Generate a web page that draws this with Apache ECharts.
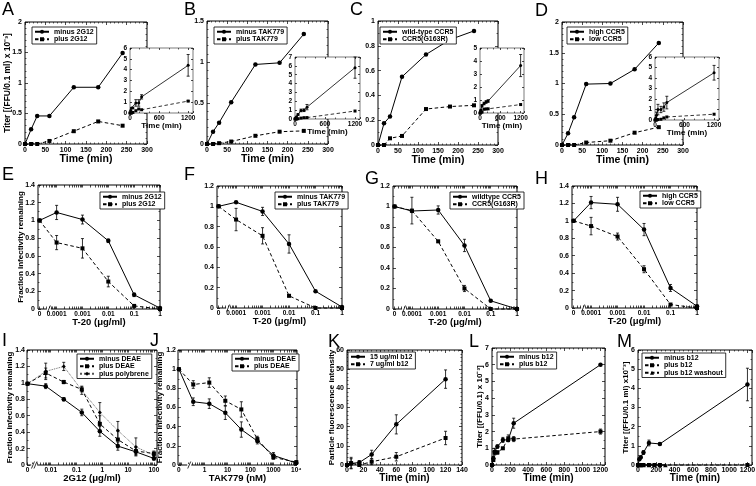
<!DOCTYPE html>
<html><head><meta charset="utf-8">
<script src="https://cdn.jsdelivr.net/npm/echarts@6/dist/echarts.min.js"></script>
<style>html,body{margin:0;padding:0;background:#fff}#c{width:756px;height:486px}</style>
</head><body><div id="c"></div>
<script>
// ================= DATA =================
// Row 1: kinetics (time in min, titer x10^-3)
const timeMain = [0, 15, 30, 60, 120, 180, 240];
const timeInset = [0, 15, 30, 60, 120, 180, 240, 1200];
// A
const minus2G12 = [0, 0.24, 0.46, 0.46, 0.93, 0.93, 1.49];
const plus2G12 = [0, 0, 0, 0.05, 0.21, 0.37, 0.30];
const insA_minus = [0, 0.24, 0.46, 0.46, 0.93, 0.93, 1.49, 4.4];
const insA_minusErr = [0, 0, 0, 0, 0.3, 0.3, 0.2, 1.0];
const insA_plus = [0, 0, 0, 0.05, 0.21, 0.37, 0.30, 1.1];
const insA_plusErr = [0, 0, 0, 0, 0, 0, 0, 0.05];
// B
const minusTAK = [0, 0.15, 0.26, 0.51, 0.97, 0.99, 1.34];
const plusTAK = [0, 0, 0.01, 0.03, 0.10, 0.15, 0.16];
const insB_minus = [0, 0.15, 0.26, 0.51, 0.97, 0.99, 1.34, 5.8];
const insB_minusErr = [0, 0, 0, 0.1, 0.15, 0.15, 0.3, 1.2];
const insB_plus = [0, 0, 0.01, 0.03, 0.10, 0.15, 0.16, 0.9];
// C
const wildCCR5 = [0, 0.175, 0.23, 0.55, 0.73, 0.85, 0.92];
const g163r = [0, 0, 0.054, 0.073, 0.29, 0.31, 0.32];
const insC_minus = [0, 0.175, 0.23, 0.55, 0.73, 0.85, 0.92, 3.65];
const insC_minusErr = [0, 0, 0, 0.1, 0.1, 0.1, 0.1, 0.85];
const insC_plus = [0, 0, 0.054, 0.073, 0.29, 0.31, 0.32, 0.65];
// D
const highCCR5 = [0, 0.19, 0.45, 0.99, 1.0, 1.23, 1.66];
const lowCCR5 = [0, 0, 0, 0.04, 0.07, 0.20, 0.29];
const insD_minus = [0, 0.19, 0.45, 0.99, 1.0, 1.23, 1.66, 4.5];
const insD_minusErr = [0, 0, 0.3, 0.5, 0.3, 0.4, 0.6, 0.7];
const insD_plus = [0, 0, 0, 0.04, 0.07, 0.20, 0.29, 0.55];

// Row 2: T-20 dose (ug/ml), fraction infectivity remaining
const t20Conc = [0, 0.0001, 0.001, 0.01, 0.1, 1];
const eMinus = [1.0, 1.09, 1.01, 0.77, 0.16, 0.01];
const eMinusErr = [0, 0.08, 0.05, 0.02, 0.02, 0];
const ePlus = [1.0, 0.75, 0.685, 0.31, 0.035, 0.0];
const ePlusErr = [0, 0.08, 0.11, 0.06, 0.01, 0.01];
const fMinus = [1.0, 1.04, 0.95, 0.63, 0.165, 0.01];
const fMinusErr = [0, 0, 0.04, 0.09, 0, 0];
const fPlus = [1.0, 0.87, 0.71, 0.12, 0.0, 0.0];
const fPlusErr = [0, 0.11, 0.08, 0.01, 0, 0.01];
const gWild = [1.0, 0.956, 0.966, 0.62, 0.08, 0.0];
const gWildErr = [0, 0, 0.04, 0.06, 0, 0];
const gMut = [1.0, 0.96, 0.66, 0.20, 0.0, 0.0];
const gMutErr = [0, 0.13, 0.01, 0.03, 0, 0];
const hHigh = [1.0, 1.21, 1.19, 0.90, 0.23, 0.02];
const hHighErr = [0, 0.07, 0.08, 0.07, 0.04, 0.01];
const hLow = [1.0, 0.94, 0.82, 0.445, 0.04, 0.0];
const hLowErr = [0, 0.1, 0.04, 0.04, 0, 0];

// Row 3
const conc2G12 = [0, 0.0064, 0.032, 0.16, 0.8, 4, 20, 100];
const iMinusDEAE = [0.99, 0.96, 0.80, 0.64, 0.41, 0.23, 0.16, 0.08];
const iMinusDEAEErr = [0, 0.03, 0.02, 0.04, 0.06, 0.05, 0.03, 0.02];
const iPlusDEAE = [0.99, 1.12, 1.01, 0.92, 0.50, 0.31, 0.17, 0.14];
const iPlusDEAEErr = [0, 0.06, 0.02, 0.03, 0.10, 0.10, 0.05, 0.03];
const iPolybrene = [0.99, 1.14, 1.20, 0.91, 0.64, 0.42, 0.22, 0.12];
const iPolybreneErr = [0, 0.10, 0.05, 0.05, 0.12, 0.11, 0.11, 0.03];
const concTAK = [0, 0.32, 1.6, 8, 40, 200, 1000, 10000];
const jMinusDEAE = [1.0, 0.66, 0.64, 0.545, 0.37, 0.25, 0.10, 0.02];
const jMinusDEAEErr = [0, 0.04, 0.05, 0.07, 0.08, 0.03, 0.03, 0.01];
const jPlusDEAE = [1.0, 0.84, 0.86, 0.67, 0.58, 0.27, 0.08, 0.03];
const jPlusDEAEErr = [0, 0.04, 0.05, 0.05, 0.08, 0.03, 0.02, 0.01];
const timeK = [0, 5, 15, 30, 60, 120];
const kHigh = [0, 0.8, 1.3, 5.5, 21.2, 44.8];
const kHighErr = [0, 2.5, 1, 2.2, 5, 4.8];
const kLow = [0, 1.0, 0, 1.7, 4.3, 14.1];
const kLowErr = [0, 3, 0.5, 1.5, 2.2, 3.5];
const timeL = [0, 15, 30, 60, 120, 180, 240, 1200];
const lMinus = [0, 0.4, 0.8, 1.1, 1.5, 1.5, 2.5, 6.0];
const lMinusErr = [0, 0.1, 0.2, 0.1, 0.15, 0.1, 0.3, 0.05];
const lPlus = [0, 0.3, 0.75, 0.75, 1.0, 1.6, 1.55, 2.0];
const lPlusErr = [0, 0, 0.1, 0.1, 0.05, 0.2, 0.15, 0.15];
const timeM = [0, 15, 30, 60, 120, 240, 1200];
const mMinus = [0, 0.3, 0.4, 0.65, 1.15, 1.1, 4.2];
const mMinusErr = [0, 0.05, 0.05, 0.1, 0.15, 0.05, 0.85];
const timeMPlus = [0, 15, 30, 60, 120, 180, 240, 1200];
const mPlus = [0, 0, 0, 0, 0, 0, 0, 0];
const timeMWash = [0, 15, 30, 60, 120, 180, 240, 300];
const mWash = [0, 0, 0, 0, 0, 0, 0, 0];

// tick labels
const t20Labels = ['0', '0.0001', '0.001', '0.01', '0.1', '1'];
const g12Labels = ['0', '0.01', '0.1', '1', '10', '100'];
const takLabels = ['0', '1', '10', '100', '1000', '10⁴'];

// ================= LAYOUT HELPERS =================
const FONT = '"Liberation Sans", Arial, Helvetica, sans-serif';
const ZERO_T20 = -4.66, ZERO_G12 = -2.9, ZERO_TAK = -1.12;
const lg = (c, zero) => c === 0 ? zero : Math.log10(c);
function logTicks(lo, hi) {
  const out = [];
  for (let d = Math.floor(lo) - 1; d <= Math.ceil(hi); d++) {
    for (let k = 1; k <= 9; k++) { const v = d + Math.log10(k); if (v >= lo - 1e-9 && v <= hi + 1e-9) out.push(v); }
  }
  return out;
}
function logAxisCfg(min, max, zero, decades, labels, extra) {
  const labelVals = [zero].concat(decades);
  return Object.assign({
    min, max, labelVals, labelTexts: labels,
    tickVals: [zero].concat(logTicks(-99, 99).filter(v => v > zero + 0.05 && v >= min && v <= max)),
    fs: 6.5, margin: 2
  }, extra);
}
const solid = (name, x, y, err) => ({name, x, y, err, dash: 'solid', sym: 'circle'});
const dashed = (name, x, y, err) => ({name, x, y, err, dash: [3.5, 2.5], sym: 'rect'});

const rowTopX = {min: 0, max: 300, interval: 50, minor: 5, name: 'Time (min)', nameGap: 10, nameSize: 10.5};
const insetX = {min: 0, max: 1300, interval: 600, minor: 3, hideMax: true, name: 'Time (min)', nameGap: 9, nameSize: 8, fs: 6.5, tickLen: 2, margin: 2};
const fracName = 'Fraction infectivity remaining';
const botX = (name, extra) => Object.assign({name, nameGap: 8.5, nameSize: 10, margin: 2}, extra);

const panels = [
  {id: 'A', box: [25, 22, 147, 144], x: rowTopX,
    y: {min: 0, max: 2, interval: 0.5, minor: 5, name: 'Titer [(FFU/0.1 ml) x 10⁻³]', nameGap: 13, nameSize: 8.5},
    legend: [32, 27],
    series: [solid('minus 2G12', timeMain, minus2G12), dashed('plus 2G12', timeMain, plus2G12)]},
  {id: 'Ai', inset: true, box: [130, 48, 193, 113], x: insetX, y: {min: 0, max: 6, interval: 1, fs: 6.5, tickLen: 2},
    series: [solid('m', timeInset, insA_minus, insA_minusErr), dashed('p', timeInset, insA_plus, insA_plusErr)]},
  {id: 'B', box: [207, 21, 328, 144], x: rowTopX,
    y: {min: 0, max: 1.5, interval: 0.5, minor: 5}, legend: [214, 27],
    series: [solid('minus TAK779', timeMain, minusTAK), dashed('plus TAK779', timeMain, plusTAK)]},
  {id: 'Bi', inset: true, box: [295, 57, 360, 119], x: insetX, y: {min: 0, max: 7, interval: 1, fs: 6.5, tickLen: 2},
    series: [solid('m', timeInset, insB_minus, insB_minusErr), dashed('p', timeInset, insB_plus)]},
  {id: 'C', box: [378, 21, 498, 145], x: rowTopX,
    y: {min: 0, max: 1, interval: 0.2, minor: 2}, legend: [380, 27],
    series: [solid('wild-type CCR5', timeMain, wildCCR5), dashed('CCR5(G163R)', timeMain, g163r)]},
  {id: 'Ci', inset: true, box: [480, 48, 524, 113], x: insetX, y: {min: 0, max: 5, interval: 1, fs: 6.5, tickLen: 2},
    series: [solid('m', timeInset, insC_minus, insC_minusErr), dashed('p', timeInset, insC_plus)]},
  {id: 'D', box: [562, 22, 683, 145], x: rowTopX,
    y: {min: 0, max: 2, interval: 0.5, minor: 5}, legend: [567, 27],
    series: [solid('high CCR5', timeMain, highCCR5), dashed('low CCR5', timeMain, lowCCR5)]},
  {id: 'Di', inset: true, box: [655, 57, 719, 120], x: insetX, y: {min: 0, max: 6, interval: 1, fs: 6.5, tickLen: 2},
    series: [solid('m', timeInset, insD_minus, insD_minusErr), dashed('p', timeInset, insD_plus)]},

  {id: 'E', box: [38, 185, 160, 309], log: ZERO_T20, brk: -4.3,
    x: logAxisCfg(-4.72, 0, ZERO_T20, [-4, -3, -2, -1, 0], t20Labels, {name: 'T-20 (μg/ml)', nameGap: 8.5, nameSize: 9.5}),
    y: {min: 0, max: 1.4, interval: 0.2, minor: 2, name: fracName, nameGap: 13, nameSize: 8}, legend: [100, 192],
    series: [solid('minus 2G12', t20Conc, eMinus, eMinusErr), dashed('plus 2G12', t20Conc, ePlus, ePlusErr)]},
  {id: 'F', box: [217, 186, 342, 308], log: ZERO_T20, brk: -4.3,
    x: logAxisCfg(-4.72, 0, ZERO_T20, [-4, -3, -2, -1, 0], t20Labels, {name: 'T-20 (μg/ml)', nameGap: 8.5, nameSize: 9.5}),
    y: {min: 0, max: 1.2, interval: 0.2, minor: 2}, legend: [275, 192],
    series: [solid('minus TAK779', t20Conc, fMinus, fMinusErr), dashed('plus TAK779', t20Conc, fPlus, fPlusErr)]},
  {id: 'G', box: [393, 186, 517, 309], log: ZERO_T20, brk: -4.3,
    x: logAxisCfg(-4.72, 0, ZERO_T20, [-4, -3, -2, -1, 0], t20Labels, {name: 'T-20 (μg/ml)', nameGap: 8.5, nameSize: 9.5}),
    y: {min: 0, max: 1.2, interval: 0.2, minor: 2}, legend: [450, 192],
    series: [solid('wildtype CCR5', t20Conc, gWild, gWildErr), dashed('CCR5(G163R)', t20Conc, gMut, gMutErr)]},
  {id: 'H', box: [572, 186, 697, 308], log: ZERO_T20, brk: -4.3,
    x: logAxisCfg(-4.72, 0, ZERO_T20, [-4, -3, -2, -1, 0], t20Labels, {name: 'T-20 (μg/ml)', nameGap: 8.5, nameSize: 9.5}),
    y: {min: 0, max: 1.4, interval: 0.2, minor: 2}, legend: [640, 191],
    series: [solid('high CCR5', t20Conc, hHigh, hHighErr), dashed('low CCR5', t20Conc, hLow, hLowErr)]},

  {id: 'I', box: [27, 350, 157, 465], log: ZERO_G12, brk: -2.64, brkN: 2,
    x: logAxisCfg(-2.92, 2.12, ZERO_G12, [-2, -1, 0, 1, 2], g12Labels, botX('2G12 (μg/ml)', {nameSize: 9.5})),
    y: {min: 0, max: 1.4, interval: 0.2, minor: 2, name: fracName, nameGap: 13, nameSize: 8, margin: 2}, legend: [77, 354],
    series: [solid('minus DEAE', conc2G12, iMinusDEAE, iMinusDEAEErr), dashed('plus DEAE', conc2G12, iPlusDEAE, iPlusDEAEErr),
      {name: 'plus polybrene', x: conc2G12, y: iPolybrene, err: iPolybreneErr, dash: 'dotted', sym: 'diamond', color: '#555'}]},
  {id: 'J', box: [178, 350, 297, 465], log: ZERO_TAK, brk: -0.67,
    x: logAxisCfg(-1.16, 4.03, ZERO_TAK, [0, 1, 2, 3, 4], takLabels, botX('TAK779 (nM)', {nameSize: 9.5})),
    y: {min: 0, max: 1.2, interval: 0.2, minor: 2, name: fracName, nameGap: 14.5, nameSize: 8, margin: 2}, legend: [232, 354],
    series: [solid('minus DEAE', concTAK, jMinusDEAE, jMinusDEAEErr), dashed('plus DEAE', concTAK, jPlusDEAE, jPlusDEAEErr)]},
  {id: 'K', box: [347, 350, 462, 465],
    x: botX('Time (min)', {min: 0, max: 140, interval: 20, minor: 4}),
    y: {min: 0, max: 60, interval: 10, minor: 5, name: 'Particle fluorescence intensity', nameGap: 11, nameSize: 8}, legend: [348, 352],
    series: [solid('15 ug/ml b12', timeK, kHigh, kHighErr), dashed('7 ug/ml b12', timeK, kLow, kLowErr)]},
  {id: 'L', box: [492, 348, 605, 465],
    x: botX('Time (min)', {min: 0, max: 1250, interval: 200, minor: 4, hideMax: true}),
    y: {min: 0, max: 7, interval: 1, minor: 2, name: 'Titer [(FFU/0.1) x 10⁻³]', nameGap: 8.5, nameSize: 8}, legend: [497, 352],
    series: [solid('minus b12', timeL, lMinus, lMinusErr), dashed('plus b12', timeL, lPlus, lPlusErr)]},
  {id: 'M', box: [638, 350, 752, 465],
    x: botX('Time (min)', {min: 0, max: 1250, interval: 200, minor: 4, hideMax: true}),
    y: {min: 0, max: 6, interval: 1, minor: 2, name: 'Titer [(FFU/0.1 ml) x10⁻³]', nameGap: 8.5, nameSize: 8}, legend: [642, 353],
    series: [solid('minus b12', timeM, mMinus, mMinusErr), dashed('plus b12', timeMPlus, mPlus),
      {name: 'plus b12 washout', x: timeMWash, y: mWash, dash: [3.5, 2.5], sym: 'triangle'}]}
];

const letters = [
  ['A', 2, 1], ['B', 184, 1], ['C', 350, 1], ['D', 535, 2],
  ['E', 2, 166], ['F', 184, 166], ['G', 365, 170], ['H', 535, 170],
  ['I', 2, 332], ['J', 150, 332], ['K', 328, 333], ['L', 469, 333], ['M', 617, 333]
];

// ================= BUILD OPTION =================
function axis(cfg, gi, pos, primary, inset) {
  const a = {
    type: 'value', gridIndex: gi, position: pos, min: cfg.min, max: cfg.max, z: inset ? 4 : 0, silent: true,
    axisLine: {show: false, onZero: false},
    axisTick: {show: true, inside: true, length: cfg.tickLen || 3, lineStyle: {color: '#000', width: 0.7}},
    minorTick: {show: !!cfg.minor, splitNumber: cfg.minor || 5, length: 1.5, lineStyle: {color: '#000', width: 0.6}},
    splitLine: {show: false}, minorSplitLine: {show: false},
    axisLabel: {show: primary, color: '#000', fontFamily: FONT, fontWeight: 'bold', fontSize: cfg.fs || 7, margin: cfg.margin || 3,
      formatter: v => String(Math.round(v * 1e6) / 1e6)},
    axisPointer: {show: false},
    nameMoveOverlap: false
  };
  if (cfg.interval != null) a.interval = cfg.interval;
  if (cfg.hideMax) a.axisLabel.showMaxLabel = false;
  if (cfg.tickVals) { a.axisTick.customValues = cfg.tickVals; a.axisTick.length = 2.5; a.minorTick.show = false; }
  if (cfg.labelVals) {
    a.axisLabel.customValues = cfg.labelVals;
    a.axisLabel.formatter = v => {
      let best = 0, bd = 1e9;
      cfg.labelVals.forEach((lv, i) => { const d = Math.abs(lv - v); if (d < bd) { bd = d; best = i; } });
      return cfg.labelTexts[best];
    };
  }
  if (primary && cfg.name) {
    a.name = cfg.name; a.nameLocation = 'middle'; a.nameGap = cfg.nameGap;
    a.nameTextStyle = {fontFamily: FONT, fontWeight: 'bold', fontSize: cfg.nameSize || 9, color: '#000'};
  }
  return a;
}

function errRender(params, api) {
  const x = api.value(0), y = api.value(1), e = api.value(2);
  if (!e) return null;
  const lo = api.coord([x, y - e]), hi = api.coord([x, y + e]);
  const w = 1.5, st = {stroke: '#000', lineWidth: 0.8};
  return {type: 'group', children: [
    {type: 'line', shape: {x1: lo[0], y1: lo[1], x2: hi[0], y2: hi[1]}, style: st},
    {type: 'line', shape: {x1: lo[0] - w, y1: lo[1], x2: lo[0] + w, y2: lo[1]}, style: st},
    {type: 'line', shape: {x1: hi[0] - w, y1: hi[1], x2: hi[0] + w, y2: hi[1]}, style: st}
  ]};
}
function brkRender(n) {
  return function (params, api) {
    const p = api.coord([api.value(0), api.value(1)]);
    const ch = [{type: 'rect', shape: {x: p[0] - 1 - n, y: p[1] - 1, width: 2 + 2 * n, height: 2}, style: {fill: '#fff'}}];
    for (let k = 0; k < n; k++) {
      const dx = (k - (n - 1) / 2) * 2.5;
      ch.push({type: 'line', shape: {x1: p[0] + dx - 1.5, y1: p[1] + 3.5, x2: p[0] + dx + 1.5, y2: p[1] - 3.5}, style: {stroke: '#000', lineWidth: 0.8}});
    }
    return {type: 'group', children: ch};
  };
}

const option = {
  animation: false, backgroundColor: '#fff', textStyle: {fontFamily: FONT},
  title: letters.map(([t, l, tp]) => ({text: t, left: l, top: tp, padding: 0,
    textStyle: {fontSize: 18, fontWeight: 'normal', fontFamily: FONT, color: '#000'}})),
  grid: [], xAxis: [], yAxis: [], legend: [], series: []
};

let ebCount = 0;
panels.forEach(p => {
  const gi = option.grid.length;
  const [l, t, r, b] = p.box;
  option.grid.push({left: l, top: t, width: r - l, height: b - t, show: true,
    borderColor: p.inset ? '#444' : '#000', borderWidth: p.inset ? 0.7 : 1,
    backgroundColor: '#fff', z: p.inset ? 3 : 0, containLabel: false, outerBoundsMode: 'none'});
  const xi = option.xAxis.length, yi = option.yAxis.length;
  option.xAxis.push(axis(p.x, gi, 'bottom', true, p.inset));
  option.xAxis.push(axis(p.x, gi, 'top', false, p.inset));
  option.yAxis.push(axis(p.y, gi, 'left', true, p.inset));
  option.yAxis.push(axis(p.y, gi, 'right', false, p.inset));
  const z = p.inset ? 5 : 2;
  const names = [];
  p.series.forEach(s => {
    const nm = p.id + '|' + s.name;
    names.push(nm);
    const xs = s.x.map(v => p.log != null ? lg(v, p.log) : v);
    const col = s.color || '#000';
    const symSize = p.inset ? 3 : (s.sym === 'diamond' ? 4 : (s.sym === 'rect' ? 4 : 4.5));
    option.series.push({
      type: 'line', name: nm, xAxisIndex: xi, yAxisIndex: yi, z, clip: false, silent: true,
      data: xs.map((xv, i) => [xv, s.y[i]]),
      symbol: s.sym, symbolSize: symSize, showSymbol: true, showAllSymbol: true,
      lineStyle: {color: col, width: p.inset ? 0.8 : (s.dash === 'dotted' ? 0.9 : 1), type: s.dash},
      itemStyle: {color: '#000', borderWidth: 0},
      emphasis: {disabled: true}
    });
    if (s.err) {
      option.series.push({
        type: 'custom', name: '_eb' + (ebCount++), xAxisIndex: xi, yAxisIndex: yi, z: z + 1, silent: true,
        data: xs.map((xv, i) => [xv, s.y[i], s.err[i]]), renderItem: errRender, encode: {x: 0, y: 1}
      });
    }
  });
  if (p.brk != null) {
    option.series.push({
      type: 'custom', name: '_brk' + p.id, xAxisIndex: xi, yAxisIndex: yi, z: 3, silent: true, clip: false,
      data: [[p.brk, p.y.min]], renderItem: brkRender(p.brkN || 1), encode: {x: 0, y: 1}
    });
  }
  if (p.legend) {
    option.legend.push({
      orient: 'vertical', left: p.legend[0], top: p.legend[1], data: names, selectedMode: false,
      itemWidth: 14, itemHeight: 5, itemGap: 0, padding: [1, 3, 1, 2],
      borderColor: '#000', borderWidth: 0.8, borderRadius: 0, backgroundColor: '#fff',
      textStyle: {fontSize: 7, fontWeight: 'bold', fontFamily: FONT, color: '#000', lineHeight: 7.5},
      formatter: n => n.split('|')[1]
    });
  }
});

const chart = echarts.init(document.getElementById('c'), null, {renderer: 'canvas'});
chart.setOption(option);
</script>
</body></html>
